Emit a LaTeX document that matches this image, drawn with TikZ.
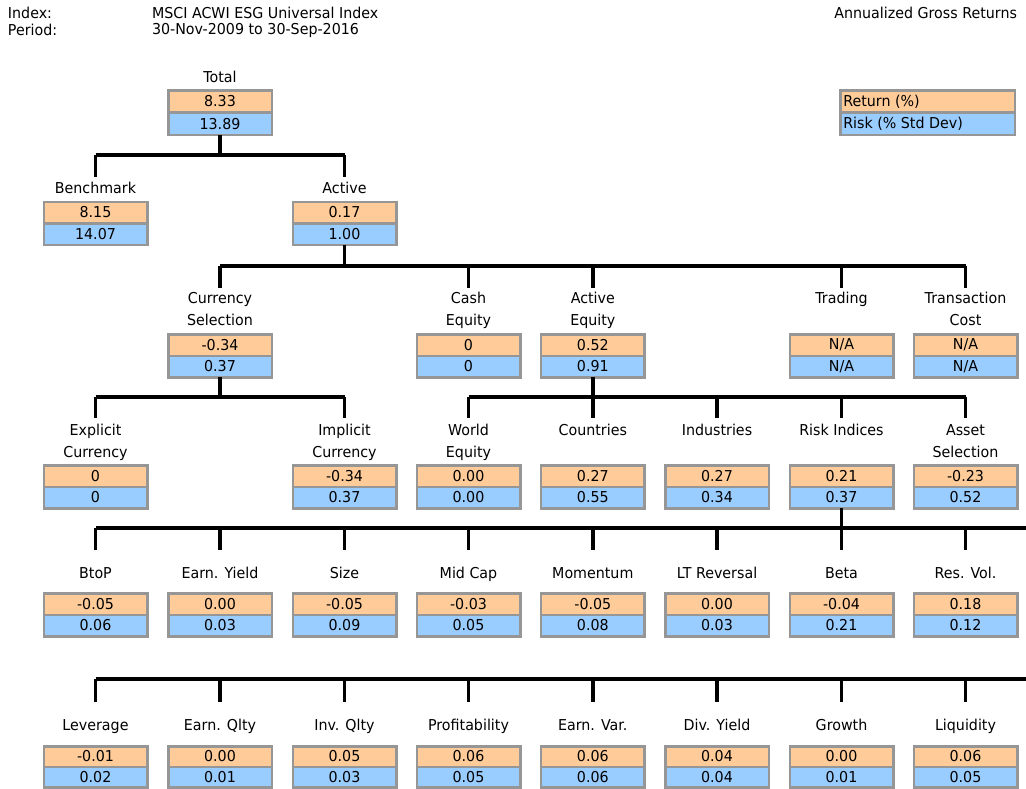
\documentclass[tikz,border=0pt]{standalone}
\usepackage{fontspec}
\setmainfont{DejaVu Sans}[FakeStretch=0.95]
\usetikzlibrary{positioning}
\definecolor{retc}{HTML}{FFCC99}
\definecolor{riskc}{HTML}{99CCFF}
\definecolor{framec}{HTML}{969696}
\newcommand\statcell[6]{%
  \node[cellO, minimum height=#6pt] (#1-r) at (#2, #3+1.25+#6/2) {#4};
  \node[cellB, minimum height=#6pt, below=0pt of #1-r] (#1-k) {#5};
}
\begin{document}
\begin{tikzpicture}[x=1pt,y=-1pt,
  every node/.style={font=\fontsize{15}{22}\selectfont, inner sep=0pt, outer sep=0pt},
  cell/.style={draw=framec, line width=2.5pt, minimum width=103.5pt},
  cellO/.style={cell, fill=retc},
  cellB/.style={cell, fill=riskc},
  lab/.style={align=center},
  conn/.style={draw=black, line width=3.4pt},
  hdr/.style={anchor=west}]
\useasboundingbox (0,0) rectangle (1026,788);
% header
\node[hdr] (hidx) at (8,13) {Index:};
\node[hdr] (hper) at (8,30) {Period:};
\node[hdr] (vidx) at (152,13) {MSCI ACWI ESG Universal Index};
\node[hdr] (vper) at (152,30) {30-Nov-2009 to 30-Sep-2016};
\node[anchor=east] (ann) at (1017,13) {Annualized Gross Returns};
% legend
\node[draw=framec, line width=2.5pt, fill=retc, minimum width=174.5pt, minimum height=22.25pt] (leg-r) at (927.5,101.4) {};
\node[draw=framec, line width=2.5pt, fill=riskc, minimum width=174.5pt, minimum height=22.25pt, below=0pt of leg-r] (leg-k) {};
\node[anchor=west] (legt1) at ([xshift=3pt]leg-r.west) {Return (\%)};
\node[anchor=west] (legt2) at ([xshift=3pt]leg-k.west) {Risk (\% Std Dev)};
% row 1
\node[lab] (tot-l) at (220,78) {\strut Total};
\statcell{tot}{220}{89}{8.33}{13.89}{22.25}
% row 2
\node[lab] (ben-l) at (95.5,189) {\strut Benchmark};
\statcell{ben}{95.5}{200.5}{8.15}{14.07}{21.5}
\node[lab] (act-l) at (344.5,189) {\strut Active};
\statcell{act}{344.5}{200.5}{0.17}{1.00}{21.5}
% row 3
\node[lab] (cur-l) at (220,310) {\strut Currency\\\strut Selection};
\statcell{cur}{220}{333}{-0.34}{0.37}{21.5}
\node[lab] (cash-l) at (468.5,310) {\strut Cash\\\strut Equity};
\statcell{cash}{468.5}{333}{0}{0}{21.5}
\node[lab] (ae-l) at (592.8,310) {\strut Active\\\strut Equity};
\statcell{ae}{592.8}{333}{0.52}{0.91}{21.5}
\node[lab] (trd-l) at (841.5,299) {\strut Trading};
\statcell{trd}{841.5}{333}{N/A}{N/A}{21.5}
\node[lab] (tc-l) at (965.5,310) {\strut Transaction\\\strut Cost};
\statcell{tc}{965.5}{333}{N/A}{N/A}{21.5}
% row 4
\node[lab] (exc-l) at (95.5,442) {\strut Explicit\\\strut Currency};
\statcell{exc}{95.5}{464}{0}{0}{21.5}
\node[lab] (imc-l) at (344.5,442) {\strut Implicit\\\strut Currency};
\statcell{imc}{344.5}{464}{-0.34}{0.37}{21.5}
\node[lab] (we-l) at (468.5,442) {\strut World\\\strut Equity};
\statcell{we}{468.5}{464}{0.00}{0.00}{21.5}
\node[lab] (cty-l) at (592.8,431) {\strut Countries};
\statcell{cty}{592.8}{464}{0.27}{0.55}{21.5}
\node[lab] (ind-l) at (717,431) {\strut Industries};
\statcell{ind}{717}{464}{0.27}{0.34}{21.5}
\node[lab] (ri-l) at (841.5,431) {\strut Risk Indices};
\statcell{ri}{841.5}{464}{0.21}{0.37}{21.5}
\node[lab] (as-l) at (965.5,442) {\strut Asset\\\strut Selection};
\statcell{as}{965.5}{464}{-0.23}{0.52}{21.5}
% row 5
\node[lab] (f1-l) at (95.5,574) {\strut BtoP};
\statcell{f1}{95.5}{592}{-0.05}{0.06}{21.5}
\node[lab] (f2-l) at (220,574) {\strut Earn. Yield};
\statcell{f2}{220}{592}{0.00}{0.03}{21.5}
\node[lab] (f3-l) at (344.5,574) {\strut Size};
\statcell{f3}{344.5}{592}{-0.05}{0.09}{21.5}
\node[lab] (f4-l) at (468.5,574) {\strut Mid Cap};
\statcell{f4}{468.5}{592}{-0.03}{0.05}{21.5}
\node[lab] (f5-l) at (592.8,574) {\strut Momentum};
\statcell{f5}{592.8}{592}{-0.05}{0.08}{21.5}
\node[lab] (f6-l) at (717,574) {\strut LT Reversal};
\statcell{f6}{717}{592}{0.00}{0.03}{21.5}
\node[lab] (f7-l) at (841.5,574) {\strut Beta};
\statcell{f7}{841.5}{592}{-0.04}{0.21}{21.5}
\node[lab] (f8-l) at (965.5,574) {\strut Res. Vol.};
\statcell{f8}{965.5}{592}{0.18}{0.12}{21.5}
% row 6
\node[lab] (g1-l) at (95.5,726) {\strut Leverage};
\statcell{g1}{95.5}{745}{-0.01}{0.02}{20.5}
\node[lab] (g2-l) at (220,726) {\strut Earn. Qlty};
\statcell{g2}{220}{745}{0.00}{0.01}{20.5}
\node[lab] (g3-l) at (344.5,726) {\strut Inv. Qlty};
\statcell{g3}{344.5}{745}{0.05}{0.03}{20.5}
\node[lab] (g4-l) at (468.5,726) {\strut Profitability};
\statcell{g4}{468.5}{745}{0.06}{0.05}{20.5}
\node[lab] (g5-l) at (592.8,726) {\strut Earn. Var.};
\statcell{g5}{592.8}{745}{0.06}{0.06}{20.5}
\node[lab] (g6-l) at (717,726) {\strut Div. Yield};
\statcell{g6}{717}{745}{0.04}{0.04}{20.5}
\node[lab] (g7-l) at (841.5,726) {\strut Growth};
\statcell{g7}{841.5}{745}{0.00}{0.01}{20.5}
\node[lab] (g8-l) at (965.5,726) {\strut Liquidity};
\statcell{g8}{965.5}{745}{0.06}{0.05}{20.5}
% bus coordinates
\coordinate (b1) at (0,155);
\coordinate (b2) at (0,266);
\coordinate (b3) at (0,397);
\coordinate (b5) at (0,528);
\coordinate (b6) at (0,679);
\coordinate (edge) at (1026,0);
% connectors level 1
\draw[conn] (tot-k.south) -- (tot-k.south |- b1);
\draw[conn] (ben-r.north |- b1) -- (act-r.north |- b1);
\foreach \n in {ben,act} \draw[conn] (\n-r.north |- b1) -- ++(0,22);
% level 2
\draw[conn] (act-k.south) -- (act-k.south |- b2);
\draw[conn] (cur-r.north |- b2) -- (tc-r.north |- b2);
\foreach \n in {cur,cash,ae,trd,tc} \draw[conn] (\n-r.north |- b2) -- ++(0,22);
% level 3 currency
\draw[conn] (cur-k.south) -- (cur-k.south |- b3);
\draw[conn] (exc-r.north |- b3) -- (imc-r.north |- b3);
\foreach \n in {exc,imc} \draw[conn] (\n-r.north |- b3) -- ++(0,21);
% level 3 active equity
\draw[conn] (ae-k.south) -- (ae-k.south |- b3);
\draw[conn] (we-r.north |- b3) -- (as-r.north |- b3);
\foreach \n in {we,cty,ind,ri,as} \draw[conn] (\n-r.north |- b3) -- ++(0,21);
% level 4 risk indices
\draw[conn] (ri-k.south) -- (ri-k.south |- b5);
\draw[conn] (f1-r.north |- b5) -- (edge |- b5);
\foreach \n in {f1,f2,f3,f4,f5,f6,f7,f8} \draw[conn] (\n-r.north |- b5) -- ++(0,22);
% level 4 continued
\draw[conn] (g1-r.north |- b6) -- (edge |- b6);
\foreach \n in {g1,g2,g3,g4,g5,g6,g7,g8} \draw[conn] (\n-r.north |- b6) -- ++(0,23);
\end{tikzpicture}
\end{document}
